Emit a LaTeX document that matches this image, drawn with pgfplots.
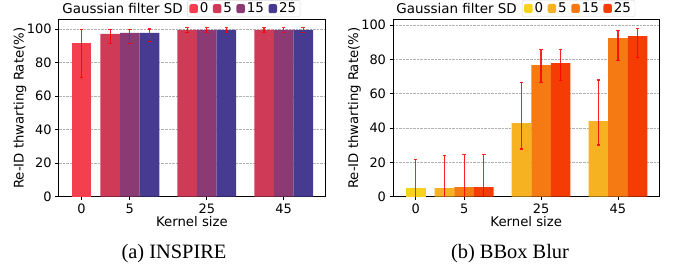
\documentclass[border=0pt]{standalone}
\usepackage{fontspec}
\setmainfont{DejaVu Sans}
\newfontfamily\capfont{Liberation Serif}
\usepackage{pgfplots}
\pgfplotsset{compat=1.18}

\definecolor{lA}{RGB}{244,63,78}
\definecolor{lB}{RGB}{207,59,87}
\definecolor{lC}{RGB}{140,58,115}
\definecolor{lD}{RGB}{70,58,145}
\definecolor{rA}{RGB}{249,210,30}
\definecolor{rB}{RGB}{246,178,32}
\definecolor{rC}{RGB}{245,122,20}
\definecolor{rD}{RGB}{246,60,5}

\pgfplotsset{
  mypanel/.style={
    scale only axis,
    width=266.5bp, height=177bp,
    anchor=south west,
    xmin=0.075, xmax=3.54,
    ymin=0,
    ybar, bar shift=0pt, bar width=0.255,
    xtick={0.37,1,2,3},
    xticklabels={0,5,25,45},
    ytick={0,20,40,60,80,100},
    /pgf/number format/assume math mode=true,
    tick label style={font=\fontsize{13}{15}\selectfont},
    label style={font=\fontsize{13.3}{15}\selectfont},
    xlabel={Kernel size},
    ylabel={Re-ID thwarting Rate(\%)},
    xlabel style={at={(axis description cs:0.5,-0.142)}, anchor=center},
    ylabel style={at={(axis description cs:-0.145,0.5)}, anchor=center},
    tick align=outside,
    xtick pos=bottom, ytick pos=left,
    major tick length=3.5bp,
    tick style={black, line width=0.8bp},
    axis line style={black, line width=0.8bp},
    ymajorgrids,
    major grid style={densely dotted, gray!60, line width=0.6bp},
    legend columns=4,
    legend style={draw=gray!30, rounded corners=2pt, fill=white,
      font=\fontsize{13.5}{14}\selectfont, inner xsep=2bp, inner ysep=0.5bp,
      /tikz/every even column/.append style={column sep=2.5bp}},
    legend image code/.code={\fill[##1] (0bp,-4.5bp) rectangle (8.5bp,4.5bp);},
  },
  myerr/.style={
    error bars/y dir=both, error bars/y explicit,
    error bars/error bar style={red, line width=1.2bp, opacity=0.85},
    error bars/error mark options={red, rotate=90, mark size=1.8bp, line width=1.2bp},
  },
}

\begin{document}
\begin{tikzpicture}
\path[use as bounding box] (0,0) rectangle (676bp,268bp);

% ---------- (a) INSPIRE ----------
\begin{axis}[mypanel, at={(58.7bp,71.3bp)}, ymax=105.5,
  legend style={at={(0.482,1.110)}, anchor=north west}]
\addplot[fill=lA, draw=none, myerr] coordinates {(0.37,91.6) += (0,8.2) -= (0,20.6)};
\addplot[fill=lB, draw=none, myerr] coordinates {
  (0.745,97.0) += (0,2.8) -= (0,5.5)
  (1.745,99.4) +- (0,1.4)
  (2.745,99.4) +- (0,1.4)};
\addplot[fill=lC, draw=none, myerr] coordinates {
  (1,97.6) += (0,2.2) -= (0,6.1)
  (2,99.4) +- (0,1.4)
  (3,99.4) +- (0,1.4)};
\addplot[fill=lD, draw=none, myerr] coordinates {
  (1.255,97.6) += (0,2.4) -= (0,5.0)
  (2.255,99.4) +- (0,1.4)
  (3.255,99.4) +- (0,1.4)};
\legend{0,5,15,25}
\end{axis}

% ---------- (b) BBox Blur ----------
\begin{axis}[mypanel, at={(393bp,71.3bp)}, ymax=103.2,
  legend style={at={(0.484,1.111)}, anchor=north west}]
\addplot[fill=rA, draw=none, myerr] coordinates {(0.37,5.0) +- (0,16.7)};
\addplot[fill=rB, draw=none, myerr] coordinates {
  (0.745,5.0) +- (0,19.1)
  (1.745,42.9) += (0,23.7) -= (0,15.1)
  (2.745,44.1) += (0,23.9) -= (0,14.0)};
\addplot[fill=rC, draw=none, myerr] coordinates {
  (1,5.6) +- (0,18.9)
  (2,76.7) += (0,9.1) -= (0,10.1)
  (3,92.4) += (0,4.5) -= (0,13.0)};
\addplot[fill=rD, draw=none, myerr] coordinates {
  (1.255,5.6) +- (0,18.9)
  (2.255,77.9) += (0,7.9) -= (0,10.1)
  (3.255,93.6) += (0,4.3) -= (0,12.4)};
\legend{0,5,15,25}
\end{axis}

\node[anchor=east, inner sep=0pt, font=\fontsize{13.5}{15}\selectfont] at (183bp,260bp) {Gaussian filter SD};
\node[anchor=east, inner sep=0pt, font=\fontsize{13.5}{15}\selectfont] at (517bp,260bp) {Gaussian filter SD};

\node[font=\capfont\fontsize{20.5}{23}\selectfont] at (174bp,14bp) {(a) INSPIRE};
\node[font=\capfont\fontsize{20.5}{23}\selectfont] at (510bp,14bp) {(b) BBox Blur};
\end{tikzpicture}
\end{document}
